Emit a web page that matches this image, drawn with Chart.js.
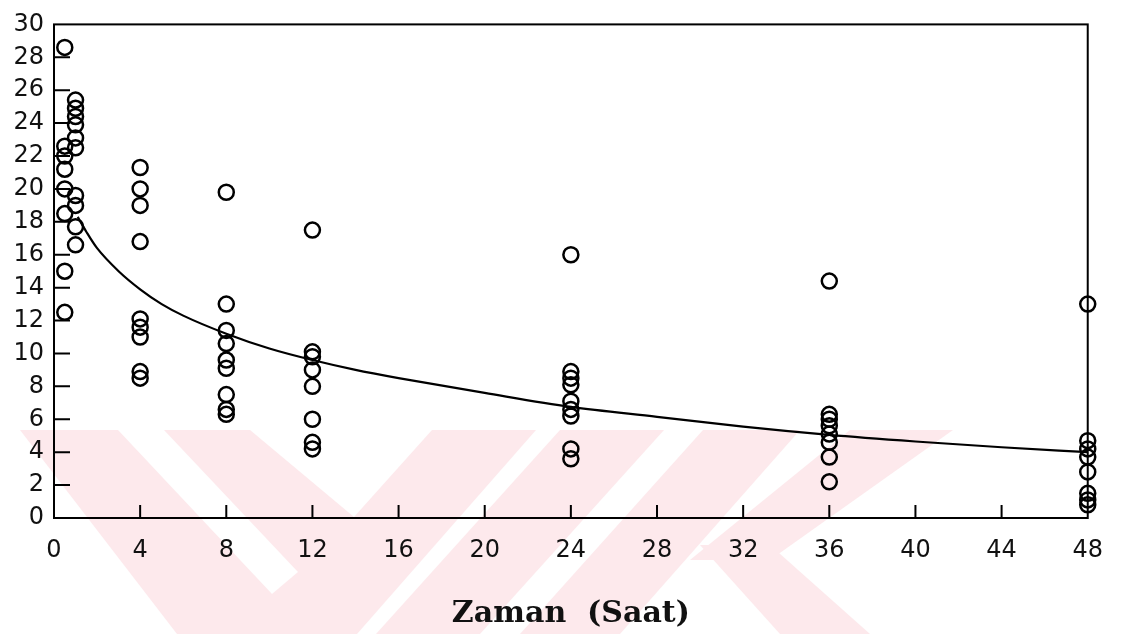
<!DOCTYPE html>
<html>
<head>
<meta charset="utf-8">
<script src="https://cdn.jsdelivr.net/npm/chart.js@4.4.1/dist/chart.umd.min.js"></script>
<style>
  html, body { margin: 0; padding: 0; background: #fff; }
  canvas { display: block; }
</style>
</head>
<body>
<canvas id="zamanChart" width="1121" height="634"></canvas>
<script>
// measured values at each sampling hour
const hours = [0.5, 1, 4, 8, 12, 24, 36, 48];

const at05 = [28.6, 22.6, 22.0, 21.2, 20.0, 18.5, 15.0, 12.5];
const at1 = [25.4, 24.9, 24.4, 23.9, 23.1, 22.5, 19.6, 19.0, 17.7, 16.6];
const at4 = [21.3, 20.0, 19.0, 16.8, 12.1, 11.6, 11.0, 8.9, 8.5];
const at8 = [19.8, 13.0, 11.4, 10.6, 9.6, 9.1, 7.5, 6.6, 6.3];
const at12 = [17.5, 10.1, 9.8, 9.0, 8.0, 6.0, 4.6, 4.2];
const at24 = [16.0, 8.9, 8.5, 8.1, 7.1, 6.6, 6.2, 4.2, 3.6];
const at36 = [14.4, 6.3, 6.0, 5.6, 5.1, 4.6, 3.7, 2.2];
const at48 = [13.0, 4.7, 4.2, 3.7, 2.8, 1.5, 1.1, 0.8];

// fitted curve
const fitHours = [1.1, 1.5, 2, 3, 4, 5, 6, 8, 10, 12, 14, 16, 20, 24, 28, 32, 36, 40, 44, 48];
const fitValues = [18.3, 17.4, 16.4, 15.0, 13.9, 13.0, 12.3, 11.2, 10.3, 9.6, 9.0, 8.5, 7.6, 6.75, 6.15, 5.55, 5.05, 4.65, 4.3, 4.0];

const xTitle = "Zaman  (Saat)";

const groups = [at05, at1, at4, at8, at12, at24, at36, at48];
const points = [];
groups.forEach((vals, i) => vals.forEach(v => points.push({ x: hours[i], y: v })));
const curve = fitHours.map((h, i) => ({ x: h, y: fitValues[i] }));

// faint pink watermark behind the chart
const pink = "#fde9ec";
const watermark = [
    [[20, 430], [536, 430], [357, 634], [177, 634]],
    [[560, 430], [664, 430], [480, 634], [376, 634]],
    [[703, 430], [800, 430], [620, 634], [520, 634]],
    [[850, 430], [953, 430], [770, 560], [690, 560]],
    [[700, 545], [770, 545], [870, 634], [780, 634]]
];
const holes = [
    [[118, 430], [164, 430], [298, 572], [272, 594]],
    [[250, 430], [432, 430], [354, 517]]
];

const fillPoly = (ctx, poly, color) => {
    ctx.fillStyle = color;
    ctx.beginPath();
    poly.forEach(([px, py], i) => i ? ctx.lineTo(px, py) : ctx.moveTo(px, py));
    ctx.closePath();
    ctx.fill();
};

const frame = {
    id: "frame",
    beforeDraw(chart) {
        const ctx = chart.ctx;
        ctx.save();
        ctx.fillStyle = "#fff";
        ctx.fillRect(0, 0, chart.width, chart.height);
        watermark.forEach(p => fillPoly(ctx, p, pink));
        holes.forEach(p => fillPoly(ctx, p, "#fff"));
        ctx.restore();
    },
    afterDraw(chart) {
        const { ctx, chartArea: a, scales: { x, y } } = chart;
        ctx.save();
        ctx.strokeStyle = "#000";
        ctx.lineWidth = 2;
        ctx.strokeRect(a.left, a.top, a.right - a.left, a.bottom - a.top);
        ctx.beginPath();
        y.ticks.forEach(t => {
            if (t.value <= y.min || t.value >= y.max) return;
            const py = y.getPixelForValue(t.value);
            ctx.moveTo(a.left, py);
            ctx.lineTo(a.left + 16, py);
        });
        x.ticks.forEach(t => {
            if (t.value <= x.min || t.value >= x.max) return;
            const px = x.getPixelForValue(t.value);
            ctx.moveTo(px, a.bottom);
            ctx.lineTo(px, a.bottom - 13);
        });
        ctx.stroke();
        ctx.restore();
    }
};

const tickFont = { family: "DejaVu Sans", size: 24 };

new Chart(document.getElementById("zamanChart"), {
    type: "scatter",
    data: {
        datasets: [
            {
                label: "fit",
                data: curve,
                showLine: true,
                borderColor: "#000",
                borderWidth: 2.2,
                pointRadius: 0,
                cubicInterpolationMode: "monotone",
                clip: false
            },
            {
                label: "observed",
                data: points,
                pointStyle: "circle",
                pointRadius: 7.5,
                borderWidth: 2.5,
                borderColor: "#000",
                backgroundColor: "rgba(0,0,0,0)",
                clip: false
            }
        ]
    },
    options: {
        responsive: false,
        animation: false,
        layout: { padding: { top: 13, right: 28, left: 0, bottom: 0 } },
        plugins: {
            legend: { display: false },
            tooltip: { enabled: false }
        },
        scales: {
            x: {
                type: "linear",
                min: 0,
                max: 48,
                grid: { display: false, drawTicks: false },
                border: { display: false },
                ticks: { stepSize: 4, font: tickFont, color: "#111", padding: 18, maxRotation: 0 },
                title: {
                    display: true,
                    text: xTitle,
                    color: "#111",
                    font: { family: "DejaVu Serif", size: 30, weight: "bold" },
                    padding: { top: 0, bottom: 2 }
                },
                afterFit: s => { s.height = 116; }
            },
            y: {
                min: 0,
                max: 30,
                grid: { display: false, drawTicks: false },
                border: { display: false },
                ticks: { stepSize: 2, font: tickFont, color: "#111", padding: 10 },
                afterFit: s => { s.width = 54; }
            }
        }
    },
    plugins: [frame]
});
</script>
</body>
</html>
